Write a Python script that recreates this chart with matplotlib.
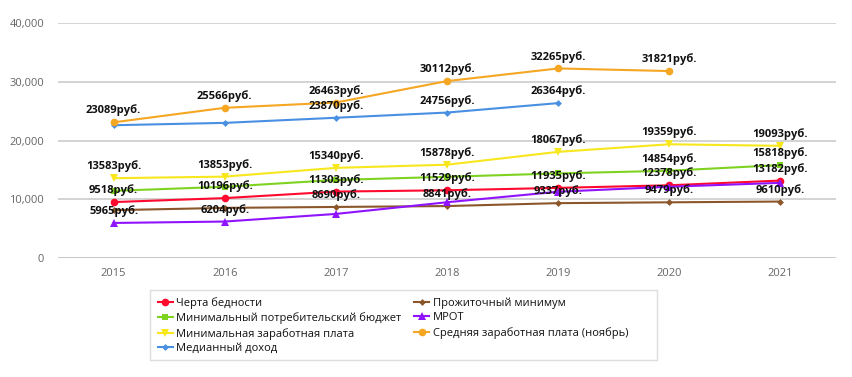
import matplotlib
matplotlib.use("Agg")
import matplotlib.pyplot as plt
from matplotlib.patches import Rectangle
import numpy as np

plt.rcParams['font.family'] = ['Open Sans', 'DejaVu Sans']

years = [2015, 2016, 2017, 2018, 2019, 2020, 2021]

poverty_line = [9518, 10196, 11303, 11529, 11935, 12378, 13182]
min_consumer_budget = [11430, 12120, 13280, 13820, 14400, 14854, 15818]
min_wage_level = [13583, 13853, 15340, 15878, 18067, 19359, 19093]
median_income = [22600, 23000, 23870, 24756, 26364, None, None]
subsistence_min = [8140, 8530, 8690, 8841, 9337, 9479, 9610]
mrot = [5965, 6204, 7500, 9489, 11280, 12130, 12792]
avg_wage_nov = [23089, 25566, 26463, 30112, 32265, 31821, None]

# years whose value label is visible in the reference
poverty_line_labeled = [2015, 2016, 2017, 2018, 2019, 2020, 2021]
min_consumer_budget_labeled = [2020, 2021]
min_wage_level_labeled = [2015, 2016, 2017, 2018, 2019, 2020, 2021]
median_income_labeled = [2017, 2018, 2019]
subsistence_min_labeled = [2017, 2018, 2019, 2020, 2021]
mrot_labeled = [2015, 2016]
avg_wage_nov_labeled = [2015, 2016, 2017, 2018, 2019, 2020]

series = [
    ("Черта бедности", poverty_line, poverty_line_labeled, '#ff0a2e', 'o', 5.5),
    ("Минимальный потребительский бюджет", min_consumer_budget, min_consumer_budget_labeled, '#7ed321', 's', 5),
    ("Минимальная заработная плата", min_wage_level, min_wage_level_labeled, '#f8e71c', 'v', 5.5),
    ("Медианный доход", median_income, median_income_labeled, '#4a90e2', 'D', 3.5),
    ("Прожиточный минимум", subsistence_min, subsistence_min_labeled, '#8b572a', 'D', 3.5),
    ("МРОТ", mrot, mrot_labeled, '#9013fe', '^', 5.5),
    ("Средняя заработная плата (ноябрь)", avg_wage_nov, avg_wage_nov_labeled, '#f5a623', 'o', 5.5),
]

W, H = 853, 377
fig = plt.figure(figsize=(W/100, H/100), dpi=100)
ax = fig.add_axes([58/W, 1-258/H, (836-58)/W, (258-23)/H])

x = np.arange(len(years))
handles = []
for name, vals, labeled, color, marker, ms in series:
    xs = [xi for xi, v in zip(x, vals) if v is not None]
    ys = [v for v in vals if v is not None]
    h, = ax.plot(xs, ys, color=color, lw=1.5, marker=marker, ms=ms,
                 markeredgewidth=0, label=name, zorder=3)
    handles.append(h)

for name, vals, labeled, color, marker, ms in series:
    for xi, yr, v in zip(x, years, vals):
        if v is not None and yr in labeled:
            ax.annotate(f"{v}руб.", (xi, v), xytext=(0, 8.5), textcoords='offset points',
                        ha='center', va='center', fontsize=8, fontweight='bold',
                        color='#111111', zorder=5)

ax.set_xlim(-0.5, len(years) - 0.5)
ax.set_ylim(0, 40000)
ax.set_xticks(x)
ax.set_xticklabels([str(y) for y in years])
ax.set_yticks([0, 10000, 20000, 30000, 40000])
ax.set_yticklabels(["0", "10,000", "20,000", "30,000", "40,000"])
ax.tick_params(axis='both', length=0, labelsize=8, labelcolor='#666666')
ax.tick_params(axis='y', pad=10)
ax.tick_params(axis='x', pad=7)
for s in ax.spines.values():
    s.set_visible(False)
ax.grid(axis='y', color='#cccccc', lw=1.2, zorder=0)
ax.axhline(0, color='#aaaaaa', lw=1.2, zorder=1)

# legend frame drawn separately
fig.patches.append(Rectangle((150/W, 1-360/H), (657-150)/W, (360-290)/H,
                             transform=fig.transFigure, fill=False,
                             edgecolor='#dddddd', lw=1.0))
leg = fig.legend(handles=handles, ncol=2, loc='upper left',
                 bbox_to_anchor=(149/W, 1-288/H), fontsize=8,
                 frameon=False,
                 handlelength=1.35, handletextpad=0.3, columnspacing=1.15,
                 labelspacing=0.33, borderpad=0.3)
for t in leg.get_texts():
    t.set_color('#111111')
    t.set_fontweight('medium')

fig.savefig("out.png", dpi=100)
